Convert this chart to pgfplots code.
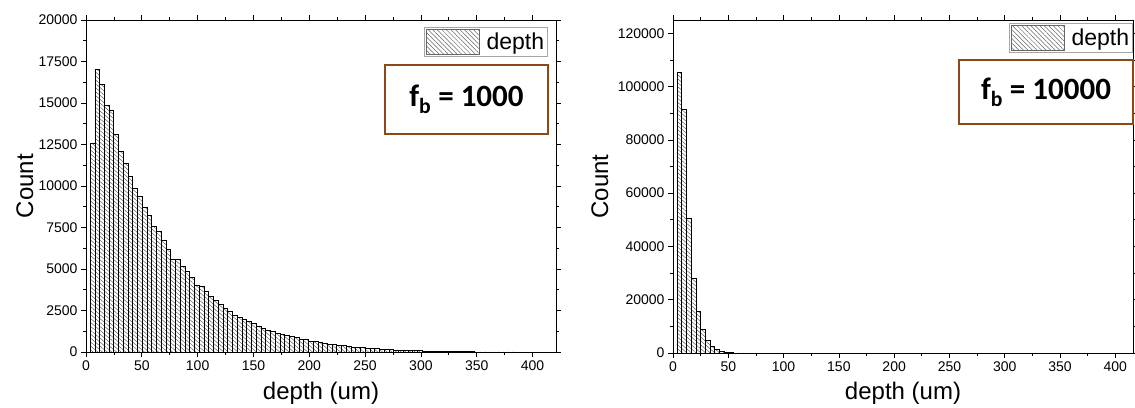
\documentclass[border=0pt]{standalone}
\usepackage{pgfplots}
\usepackage{pgfplotstable}
\pgfplotsset{compat=1.18}
\usepackage{fontspec}
\setmainfont{Liberation Sans}
\newfontfamily\calib{Carlito}
\usetikzlibrary{patterns.meta}

\definecolor{boxbrown}{RGB}{140,72,25}

\pgfplotstableread{
x y
3.60 12570
7.85 17030
12.10 16150
16.35 14840
20.60 14580
24.85 13130
29.10 12070
33.35 11370
37.60 10560
41.85 9860
46.10 9360
50.35 8750
54.60 8210
58.85 7550
63.10 7250
67.35 6750
71.60 6190
75.85 5600
80.10 5580
84.35 5140
88.60 4840
92.85 4500
97.10 4040
101.35 3980
105.60 3630
109.85 3370
114.10 3090
118.35 2890
122.60 2630
126.85 2430
131.10 2230
135.35 2070
139.60 1970
143.85 1830
148.10 1730
152.35 1570
156.60 1460
160.85 1330
165.10 1250
169.35 1120
173.60 1040
177.85 980
182.10 930
186.35 870
190.60 790
194.85 740
199.10 660
203.35 620
207.60 590
211.85 540
216.10 490
220.35 450
224.60 410
228.85 380
233.10 345
237.35 310
241.60 275
245.85 260
250.10 240
254.35 220
258.60 200
262.85 180
267.10 165
271.35 150
275.60 135
279.85 120
284.10 108
288.35 96
292.60 86
296.85 76
301.10 68
305.35 60
309.60 53
313.85 47
318.10 41
322.35 36
326.60 31
330.85 27
335.10 23
339.35 19
343.60 16
347.85 13
352.10 10
356.35 8
360.60 6
364.85 5
369.10 4
373.35 3
377.60 2
381.85 2
386.10 0
}\tablefa

\pgfplotstableread{
x y
3.60 105400
7.85 91500
12.10 50600
16.35 28100
20.60 15600
24.85 8750
29.10 4750
33.35 2500
37.60 1250
41.85 500
46.10 250
50.35 120
54.60 60
58.85 30
63.10 15
67.35 0
}\tablefb

\pgfplotsset{
  hist/.style={
    scale only axis, xmin=0, ymin=0,
    tick align=outside,
    major tick length=5pt, minor tick length=3pt,
    xtick distance=50, minor x tick num=1, minor y tick num=1,
    tick style={black, line width=0.7pt},
    axis line style={line width=0.8pt},
    tick label style={font=\fontsize{14}{16}\selectfont},
    /pgf/number format/fixed,
    /pgf/number format/precision=0,
    /pgf/number format/assume math mode=true,
    /pgf/number format/1000 sep={},
    scaled y ticks=false, scaled x ticks=false,
    label style={font=\fontsize{24}{28}\selectfont},
    legend style={draw=gray!70, line width=0.8pt, font=\fontsize{23}{25}\selectfont, inner sep=1.5pt, anchor=north east,
      /tikz/every odd column/.append style={column sep=5pt}},
  },
  histbar/.style={
    ybar interval, draw=black, line width=0.5pt,
    pattern={Lines[angle=-40,distance=3pt,line width=0.5pt]}, pattern color=gray!75!black,
    legend image code/.code={\draw[pattern={Lines[angle=-45,distance=3.2pt,line width=0.5pt]}, pattern color=gray!80!black, draw=gray!80!black, line width=0.6pt] (0pt,-12.5pt) rectangle (53pt,12.5pt);},
  },
}

\begin{document}
\begin{tikzpicture}
\begin{axis}[hist, at={(86pt,55pt)}, anchor=south west, width=470pt, height=332pt,
  xmax=421, ymax=20000, ytick distance=2500,
  xlabel={depth (um)}, ylabel={Count},
  xlabel style={at={(axis description cs:0.5,-0.123)}, anchor=center},
  ylabel style={at={(axis description cs:-0.13,0.5)}, anchor=center},
  legend style={at={(rel axis cs:0.983,0.979)}}]
\addplot[histbar] table {\tablefa};
\addlegendentry{depth}
\end{axis}

\begin{axis}[hist, at={(673pt,54pt)}, anchor=south west, width=460pt, height=333pt,
  xmax=416, ymax=125000, ytick distance=20000,
  xlabel={depth (um)}, ylabel={Count},
  xlabel style={at={(axis description cs:0.5,-0.12)}, anchor=center},
  ylabel style={at={(axis description cs:-0.159,0.5)}, anchor=center},
  legend style={at={(rel axis cs:1,0.99)}}]
\addplot[histbar] table {\tablefb};
\addlegendentry{depth}
\end{axis}

\node[draw=boxbrown, line width=1.8pt, fill=white, minimum width=163pt, minimum height=69pt, inner sep=0pt, font=\calib\bfseries\fontsize{31}{33}\selectfont] at (466.5pt,307.5pt) {f\textsubscript{b} = 1000};
\node[draw=boxbrown, line width=1.8pt, fill=white, minimum width=174pt, minimum height=64pt, inner sep=0pt, font=\calib\bfseries\fontsize{31}{33}\selectfont] at (1046pt,315pt) {f\textsubscript{b} = 10000};

\pgfresetboundingbox
\useasboundingbox (0,0) rectangle (1135pt,407pt);
\end{tikzpicture}
\end{document}
